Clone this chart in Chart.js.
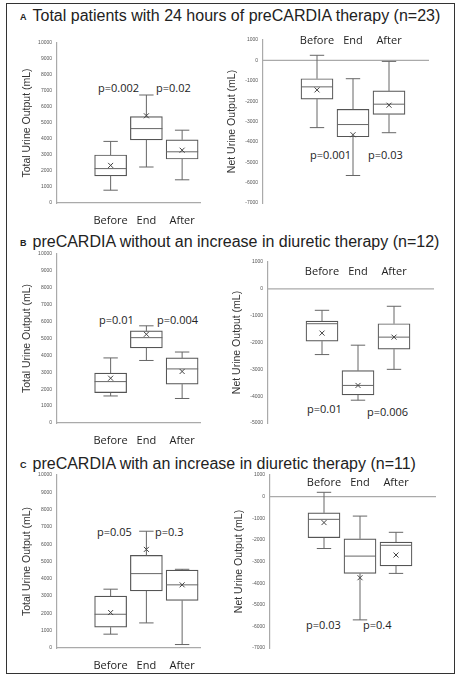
<!DOCTYPE html>
<html><head><meta charset="utf-8">
<script src="https://cdn.jsdelivr.net/npm/chart.js@4"></script>
<style>
body{margin:0;background:#fff;width:461px;height:678px;position:relative;overflow:hidden;font-family:"Liberation Sans",Arial,sans-serif}
#frame{position:absolute;left:6px;top:3px;width:447px;height:669px;border:1.5px solid #333}
.t{position:absolute;font-size:16px;color:#222;white-space:nowrap}
.t b{font-size:9px;margin-right:6px;vertical-align:middle}
.p{position:absolute;font-family:"Open Sans",sans-serif;font-size:11px;color:#222;white-space:nowrap}
canvas{position:absolute}
</style></head><body>
<div id="frame"></div>
<div class="t" style="left:20px;top:7px"><b>A</b>Total patients with 24 hours of preCARDIA therapy (n=23)</div>
<div class="t" style="left:20px;top:233px"><b>B</b>preCARDIA without an increase in diuretic therapy (n=12)</div>
<div class="t" style="left:20px;top:455px"><b>C</b>preCARDIA with an increase in diuretic therapy (n=11)</div>
<div class="p" style="left:98px;top:80px">p=0.002</div><div class="p" style="left:156px;top:80px">p=0.02</div>
<div class="p" style="left:310px;top:147px">p=0.001</div><div class="p" style="left:368px;top:147px">p=0.03</div>
<div class="p" style="left:99px;top:312px">p=0.01</div><div class="p" style="left:157px;top:312px">p=0.004</div>
<div class="p" style="left:307px;top:401px">p=0.01</div><div class="p" style="left:367px;top:404px">p=0.006</div>
<div class="p" style="left:97px;top:524px">p=0.05</div><div class="p" style="left:155px;top:524px">p=0.3</div>
<div class="p" style="left:306px;top:617px">p=0.03</div><div class="p" style="left:363px;top:617px">p=0.4</div>
<canvas id="c1"></canvas><canvas id="c2"></canvas><canvas id="c3"></canvas>
<canvas id="c4"></canvas><canvas id="c5"></canvas><canvas id="c6"></canvas>
<script>
const categories = ['Before','End','After'];
// each box: [min, q1, median, q3, max, mean]
const A_total = [[800,1700,2150,3000,3850,2350],[2250,3950,4650,5400,6750,5450],[1450,2750,3200,3950,4550,3300]];
const A_net   = [[-3300,-1900,-1300,-900,250,-1450],[-5650,-3750,-3150,-2400,-900,-3650],[-3550,-2650,-2150,-1500,-50,-2200]];
const B_total = [[1600,1800,2450,2950,3850,2650],[3700,4450,5050,5450,5750,5250],[1450,2300,3200,3850,4200,3050]];
const B_net   = [[-2450,-1950,-1300,-1200,-800,-1650],[-4150,-3950,-3600,-3050,-2100,-3600],[-3000,-2250,-1800,-1300,-650,-1800]];
const C_total = [[800,1200,1950,3000,3400,2050],[1450,3300,4300,5350,6750,5700],[200,2750,3650,4500,4550,3650]];
const C_net   = [[-2400,-1900,-1050,-750,200,-1200],[-5700,-3550,-2750,-1950,-900,-3750],[-3550,-3200,-2250,-2100,-1650,-2700]];
const totalTicks = {min:0,max:10000,step:1000};
const netTicksA = {min:-7000,max:1000,step:1000};
const netTicksB = {min:-5000,max:1000,step:1000};

const boxPlugin = {
  id:'box',
  afterDatasetsDraw(chart){
    const ctx=chart.ctx, y=chart.scales.y, o=chart.options.plugins.box;
    const ca=chart.chartArea;
    if(o.net){
      ctx.save();ctx.strokeStyle='#aaa';ctx.lineWidth=1.2;
      const y0=y.getPixelForValue(0);
      ctx.beginPath();ctx.moveTo(ca.left,y0);ctx.lineTo(ca.right+22,y0);ctx.stroke();ctx.restore();
    }
    const meta=chart.getDatasetMeta(0);
    o.boxes.forEach((b,i)=>{
      const el=meta.data[i+1]; if(!el) return;
      const cx=el.x, hw=el.width/2, cap=hw*0.45;
      ctx.save();ctx.strokeStyle='#666';ctx.lineWidth=1;
      const p=v=>y.getPixelForValue(v);
      ctx.beginPath();
      ctx.moveTo(cx,p(b[0]));ctx.lineTo(cx,p(b[1]));
      ctx.moveTo(cx,p(b[3]));ctx.lineTo(cx,p(b[4]));
      ctx.moveTo(cx-cap,p(b[0]));ctx.lineTo(cx+cap,p(b[0]));
      ctx.moveTo(cx-cap,p(b[4]));ctx.lineTo(cx+cap,p(b[4]));
      ctx.moveTo(cx-hw,p(b[2]));ctx.lineTo(cx+hw,p(b[2]));
      ctx.stroke();
      const my=p(b[5]);
      ctx.strokeStyle='#444';
      ctx.beginPath();ctx.moveTo(cx-2.5,my-2.5);ctx.lineTo(cx+2.5,my+2.5);ctx.moveTo(cx+2.5,my-2.5);ctx.lineTo(cx-2.5,my+2.5);ctx.stroke();
      if(o.net){
        ctx.fillStyle='#222';ctx.font='11px "Open Sans",sans-serif';ctx.textAlign='center';ctx.textBaseline='middle';
        ctx.fillText(categories[i],cx,p(o.labelV));
      }
      ctx.restore();
    });
  }
};

function make(id,left,top,w,h,boxes,net,tk,labelV,padTop,xH){
  const c=document.getElementById(id);
  c.style.left=left+'px';c.style.top=top+'px';c.width=w;c.height=h;c.style.width=w+'px';c.style.height=h+'px';
  new Chart(c,{
    type:'bar',
    data:{labels:[''].concat(categories),datasets:[{data:[null].concat(boxes.map(b=>[b[1],b[3]])),
      backgroundColor:'#fff',borderColor:'#555',borderWidth:1.2,borderSkipped:false,barThickness:32}]},
    plugins:[boxPlugin],
    options:{responsive:false,animation:false,devicePixelRatio:1,
      layout:{padding:{top:padTop,right:net?28:3,bottom:net?5:0,left:0}},
      plugins:{legend:{display:false},tooltip:{enabled:false},box:{boxes,net,labelV}},
      scales:{
        x:{display:!net,grid:{display:false},border:{color:'#aaa',width:1.2},
           ticks:{color:'#222',font:{size:11,family:'"Open Sans",sans-serif'},padding:3,maxRotation:0,minRotation:0,autoSkip:false},
           afterFit(s){s.height=xH;}},
        y:{min:tk.min,max:tk.max,grid:{display:false,drawTicks:true,tickLength:3},
           border:{color:'#aaa',width:1.2},
           ticks:{stepSize:tk.step,color:'#555',font:{size:5},padding:2,callback:v=>String(v)},
           title:{display:true,text:net?'Net Urine Output (mL)':'Total Urine Output (mL)',color:'#333',font:{size:10.5,family:'"Liberation Sans",Arial'},padding:1},
           afterFit(s){s.width=net?38:37;}}
      }}
  });
}
make('c1',20,35,183,190,A_total,false,totalTicks,0,8,22);
make('c2',225,32,210,176,A_net,true,netTicksA,950,8,0);
make('c3',20,246,183,200,B_total,false,totalTicks,0,8,23);
make('c4',230,254,210,174,B_net,true,netTicksB,630,8,0);
make('c5',20,467,183,204,C_total,false,totalTicks,0,8,23);
make('c6',232,467,210,186,C_net,true,netTicksA,630,8,0);
</script></body></html>
